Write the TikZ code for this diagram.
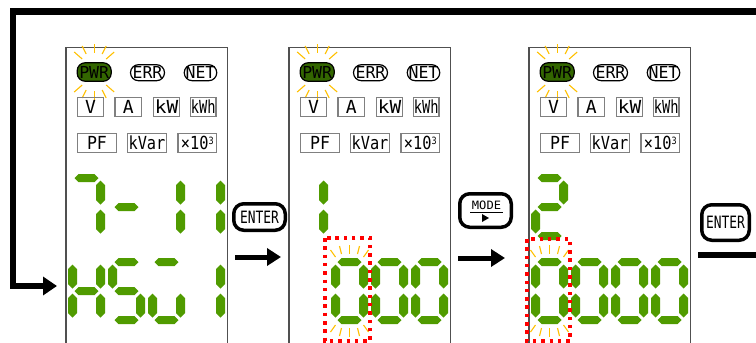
\documentclass[tikz,border=0pt]{standalone}
\usepackage{fontspec}
\usepackage{graphicx}
\setmainfont{Liberation Sans}
\newfontfamily\lcdfont{DejaVu Sans Mono}
\usetikzlibrary{arrows.meta}
\definecolor{seggreen}{RGB}{80,155,0}
\definecolor{pwrgreen}{RGB}{51,102,0}
\definecolor{rayc}{RGB}{255,192,0}
\definecolor{panelgray}{RGB}{80,80,80}
\definecolor{boxgray}{RGB}{128,128,128}
\newcommand\sx[2]{\scalebox{#1}[1]{#2}}
\newcommand\hseg[2]{\fill[seggreen] ({#1},{#2}) ++(-12,0) -- ++(4,-4) -- ++(16,0) -- ++(4,4) -- ++(-4,4) -- ++(-16,0) -- cycle;}
\newcommand\vseg[2]{\fill[seggreen] ({#1},{#2}) ++(0,-12) -- ++(4.5,4.5) -- ++(0,15) -- ++(-4.5,4.5) -- ++(-4.5,-4.5) -- ++(0,-15) -- cycle;}
\newcommand\sgA[2]{\hseg{#1+14}{#2}}
\newcommand\sgB[2]{\vseg{#1+28}{#2+14.5}}
\newcommand\sgC[2]{\vseg{#1+28}{#2+43.5}}
\newcommand\sgD[2]{\hseg{#1+14}{#2+58}}
\newcommand\sgE[2]{\vseg{#1}{#2+43.5}}
\newcommand\sgF[2]{\vseg{#1}{#2+14.5}}
\newcommand\sgG[2]{\hseg{#1+14}{#2+29}}
\newcommand\lcddigit[3]{\foreach \s in {#3}{\csname sg\s\endcsname{#1}{#2}}}
\newcommand\flashrays[1]{%
  \foreach \a/\b/\c/\d in {-19/-12/-14/-5,-10/-16/-8/-8,0/-17/0/-8,10/-16/8/-8,19/-12/14/-5}{%
    \draw[ray] ({#1+14+\a},{262+\b}) -- ({#1+14+\c},{262+\d});
    \draw[ray] ({#1+14+\a},{320-(\b)}) -- ({#1+14+\c},{320-(\d)});}}
\newcommand\lcdpanel[2]{%
  \begin{scope}[shift={(#1,0)}]
    \draw[panelline] (0,343) -- (0,47.5) -- (161.5,47.5) -- (161.5,343);
    \foreach \a/\b/\c/\d in {-20/-20/-12/-13,-12/-26/-8/-18,0/-28/0/-19,12/-26/8/-18,20/-20/12/-13}{%
      \draw[ray] ({28.2+\a},{72+\b}) -- ({28.2+\c},{72+\d});
      \draw[ray] ({28.2+\a},{72-(\b)}) -- ({28.2+\c},{72-(\d)});}
    \node[pill,fill=pwrgreen,minimum width=34pt,minimum height=18.5pt] (pwr#2) at (28.2,72) {PWR};
    \node[pill,minimum width=34pt,minimum height=16pt] (err#2) at (81.5,72.7) {ERR};
    \node[pill,minimum width=32.5pt,minimum height=16pt] (net#2) at (134.5,72.7) {NET};
    \node[lbl,minimum width=26pt] (v#2) at (24.5,107) {V};
    \node[lbl,minimum width=26.5pt] (a#2) at (62.25,107) {A};
    \node[lbl,minimum width=26pt] (kw#2) at (100.5,107) {\sx{1.08}{kW}};
    \node[lbl,minimum width=25.5pt] (kwh#2) at (137.25,107) {\sx{0.76}{kWh}};
    \node[lbl,minimum width=39pt] (pf#2) at (31,143) {\sx{0.92}{PF}};
    \node[lbl,minimum width=39pt] (kvar#2) at (81,143) {\sx{0.85}{kVar}};
    \node[lbl,minimum width=38.5pt] (x#2) at (131.25,143) {\sx{0.85}{×10\raisebox{5pt}{\fontsize{10}{10}\selectfont 3}}};
  \end{scope}}
\begin{document}
\begin{tikzpicture}[x=1pt,y=-1pt,
  ray/.style={draw=rayc,line width=1.1pt},
  pill/.style={draw=black,line width=1.2pt,rounded corners=8pt,inner sep=0pt,font=\lcdfont\fontsize{16.5}{16.5}\selectfont},
  lbl/.style={draw=boxgray,line width=1.4pt,inner sep=0pt,minimum height=19pt,font=\lcdfont\fontsize{18}{18}\selectfont},
  panelline/.style={draw=panelgray,line width=1.3pt},
  btn/.style={draw=black,line width=3.5pt,rounded corners=10pt,inner sep=0pt,font=\lcdfont\fontsize{17}{17}\selectfont},
  flow/.style={line width=5pt,-{Triangle[length=14pt,width=17pt]}},
  loopline/.style={line width=6.5pt,-{Triangle[length=14pt,width=18pt]}},
  flashbox/.style={draw=red,line width=3.5pt,dash pattern=on 3.5pt off 4.8pt}]
\useasboundingbox (0,0) rectangle (756,343);
\clip (0,0) rectangle (756,343);
% loop connector
\coordinate (loopR) at (756,11.5);
\coordinate (loopC1) at (13,11.5);
\coordinate (loopC2) at (13,286);
\coordinate (loopEnd) at (57,286);
\draw[loopline] (loopR) -- (loopC1) -- (loopC2) -- (loopEnd);
% panels
\lcdpanel{66}{p1}
\lcdpanel{289}{p2}
\lcdpanel{529}{p3}
% flashing rays
\flashrays{335.5}
\flashrays{535.5}
% panel 1 digits
\lcddigit{72.5}{178}{A,B,C}
\lcddigit{112.5}{178}{G}
\lcddigit{152.5}{178}{B,C}
\lcddigit{192.5}{178}{B,C}
\lcddigit{72.5}{262}{B,C,E,F,G}
\lcddigit{112.5}{262}{A,F,G,C,D}
\lcddigit{152.5}{262}{A,C,D,E}
\lcddigit{192.5}{262}{B,C}
% panel 2 digits
\lcddigit{295.5}{178}{B,C}
\lcddigit{335.5}{262}{A,B,C,D,E,F}
\lcddigit{375.5}{262}{A,B,C,D,E,F}
\lcddigit{415.5}{262}{A,B,C,D,E,F}
% panel 3 digits
\lcddigit{535.5}{178}{A,B,G,E,D}
\lcddigit{535.5}{262}{A,B,C,D,E,F}
\lcddigit{575.5}{262}{A,B,C,D,E,F}
\lcddigit{615.5}{262}{A,B,C,D,E,F}
\lcddigit{655.5}{262}{A,B,C,D,E,F}
% flashing boxes
\draw[flashbox] (325,238) rectangle (370,341);
\draw[flashbox] (527,239) rectangle (570,341);
% buttons
\node[btn,minimum width=51.5pt,minimum height=26.5pt] (enter1) at (259.5,217) {\sx{0.76}{ENTER}};
\node[btn,minimum width=51.5pt,minimum height=33.5pt] (mode) at (485.5,210.5) {};
\node[font=\lcdfont\fontsize{11.5}{11.5}\selectfont,inner sep=0pt] (modetxt) at (486.5,205.5) {\sx{1.05}{MODE}};
\draw[line width=1.2pt] (470,212.3) -- (503,212.3);
\fill (482,214) -- (482,222) -- (489,218) -- cycle;
\node[btn,minimum width=47.5pt,minimum height=35.5pt] (enter3) at (725.5,222.5) {\sx{0.76}{ENTER}};
% arrows between panels
\coordinate (a1s) at (235,257);
\coordinate (a1e) at (281,257);
\draw[flow] (a1s) -- (a1e);
\coordinate (a2s) at (458,258);
\coordinate (a2e) at (505,258);
\draw[flow] (a2s) -- (a2e);
\coordinate (outs) at (698,255);
\coordinate (oute) at (756,255);
\draw[line width=6pt] (outs) -- (oute);
\end{tikzpicture}
\end{document}
